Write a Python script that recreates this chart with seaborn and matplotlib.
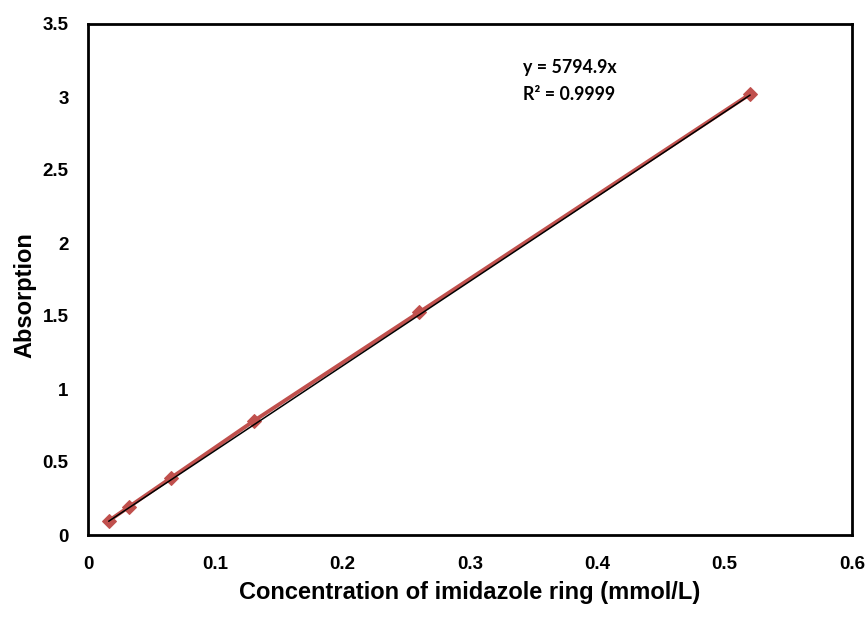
import matplotlib
matplotlib.use("Agg")
import matplotlib.pyplot as plt
import seaborn as sns
import numpy as np
import pandas as pd

concentration = [0.01625, 0.0325, 0.065, 0.13, 0.26, 0.52]
absorption = [0.097, 0.195, 0.39, 0.78, 1.525, 3.02]
slope = 5.7949
x_ticks = [0, 0.1, 0.2, 0.3, 0.4, 0.5, 0.6]
x_tick_labels = ["0", "0.1", "0.2", "0.3", "0.4", "0.5", "0.6"]
y_ticks = [0, 0.5, 1, 1.5, 2, 2.5, 3, 3.5]
y_tick_labels = ["0", "0.5", "1", "1.5", "2", "2.5", "3", "3.5"]
eq_lines = ["y = 5794.9x", "R² = 0.9999"]

sns.set_style("white")
plt.rcParams['font.family'] = ['Liberation Sans', 'DejaVu Sans']
plt.rcParams['text.color'] = 'black'
plt.rcParams['axes.labelcolor'] = 'black'
plt.rcParams['xtick.color'] = 'black'
plt.rcParams['ytick.color'] = 'black'

df = pd.DataFrame({"conc": concentration, "abs": absorption})
trend = pd.DataFrame({"conc": [concentration[0], concentration[-1]]})
trend["abs"] = slope * trend["conc"]

fig = plt.figure(figsize=(8.68, 6.18), dpi=100)
ax = fig.add_axes([88/868, (618-535)/618, (852-88)/868, (535-24)/618])

red = "#C0504D"
sns.lineplot(data=df, x="conc", y="abs", ax=ax, color=red, linewidth=2.8,
             marker="D", markersize=7, markeredgecolor=red, markerfacecolor=red,
             zorder=2)
sns.lineplot(data=trend, x="conc", y="abs", ax=ax, color="black", linewidth=1.1, zorder=3)

ax.set_xlim(0, 0.6)
ax.set_ylim(0, 3.5)
ax.set_xticks(x_ticks)
ax.set_xticklabels(x_tick_labels, fontsize=13.5, fontweight="bold")
ax.set_yticks(y_ticks)
ax.set_yticklabels(y_tick_labels, fontsize=13.5, fontweight="bold")
ax.tick_params(axis="y", direction="in", length=5, width=1.5, pad=14, color="black")
ax.tick_params(axis="x", direction="in", length=5, width=1.5, pad=15, color="black")
for s in ax.spines.values():
    s.set_visible(True)
    s.set_color("black")
    s.set_linewidth(2)

ax.set_xlabel("Concentration of imidazole ring (mmol/L)", fontsize=17, fontweight="bold", labelpad=6)
ax.set_ylabel("Absorption", fontsize=17, fontweight="bold")
ax.yaxis.set_label_coords(-0.068, 0.47)

ax.text(0.3417, 3.2, eq_lines[0], fontsize=12.8, fontweight="bold",
        family=["Lato", "DejaVu Sans"], va="center", ha="left")
ax.text(0.3417, 3.016, eq_lines[1], fontsize=12.8, fontweight="bold",
        family=["Lato", "DejaVu Sans"], va="center", ha="left")

fig.savefig("out.png", dpi=100)
